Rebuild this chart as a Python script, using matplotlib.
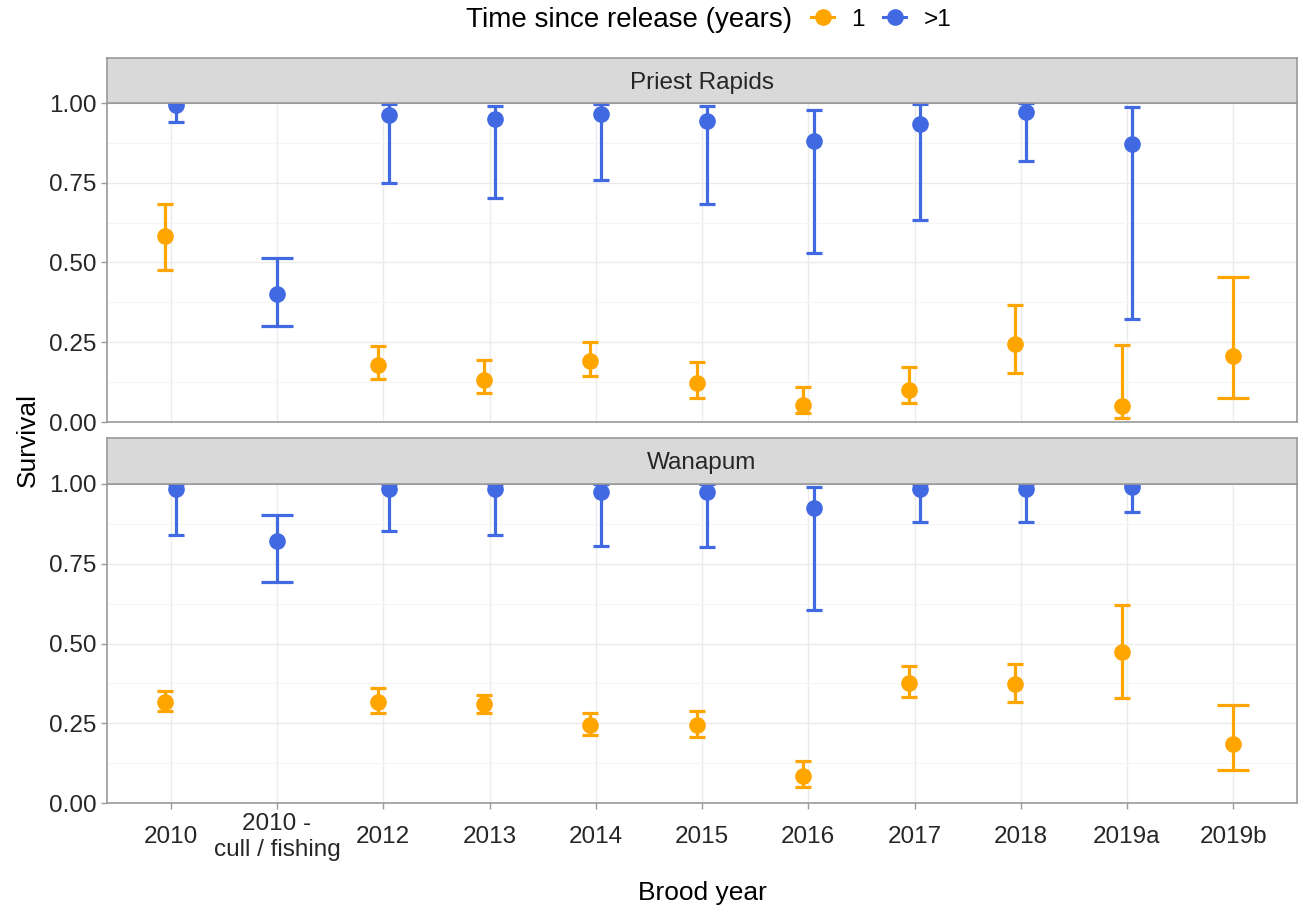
import numpy as np
import matplotlib.pyplot as plt
from matplotlib.lines import Line2D

plt.rcParams['font.family'] = ['Liberation Sans', 'DejaVu Sans']

years = ["2010", "2010 -\ncull / fishing", "2012", "2013", "2014", "2015",
         "2016", "2017", "2018", "2019a", "2019b"]
nan = np.nan

# Priest Rapids
pr_1_est = [0.584, nan, 0.179, 0.132, 0.190, 0.122, 0.054, 0.101, 0.244, 0.051, 0.208]
pr_1_lo = [0.478, nan, 0.134, 0.090, 0.143, 0.075, 0.028, 0.059, 0.154, 0.011, 0.076]
pr_1_hi = [0.684, nan, 0.238, 0.195, 0.251, 0.187, 0.111, 0.171, 0.368, 0.242, 0.455]
pr_2_est = [0.995, 0.400, 0.962, 0.949, 0.966, 0.945, 0.880, 0.934, 0.973, 0.870, nan]
pr_2_lo = [0.942, 0.301, 0.749, 0.702, 0.759, 0.684, 0.530, 0.633, 0.817, 0.322, nan]
pr_2_hi = [1.000, 0.513, 0.998, 0.992, 0.998, 0.992, 0.978, 0.998, 1.000, 0.986, nan]

# Wanapum
wa_1_est = [0.317, nan, 0.317, 0.309, 0.244, 0.244, 0.084, 0.377, 0.372, 0.473, 0.186]
wa_1_lo = [0.288, nan, 0.281, 0.283, 0.214, 0.207, 0.049, 0.332, 0.316, 0.330, 0.105]
wa_1_hi = [0.351, nan, 0.361, 0.340, 0.281, 0.288, 0.131, 0.429, 0.437, 0.622, 0.307]
wa_2_est = [0.985, 0.822, 0.985, 0.985, 0.976, 0.976, 0.925, 0.985, 0.985, 0.990, nan]
wa_2_lo = [0.841, 0.694, 0.853, 0.841, 0.806, 0.804, 0.604, 0.880, 0.880, 0.913, nan]
wa_2_hi = [1.000, 0.904, 1.000, 1.000, 1.000, 1.000, 0.990, 1.000, 1.000, 1.000, nan]

panels = [
    ("Priest Rapids", (pr_1_est, pr_1_lo, pr_1_hi), (pr_2_est, pr_2_lo, pr_2_hi)),
    ("Wanapum", (wa_1_est, wa_1_lo, wa_1_hi), (wa_2_est, wa_2_lo, wa_2_hi)),
]

c_one = "#FFA500"
c_more = "#4169E1"
grid_major = "#EBEBEB"
grid_minor = "#F5F5F5"
border = "#9A9A9A"
text_col = "#262626"

W, H = 1306, 913
fig = plt.figure(figsize=(W / 100, H / 100), dpi=100)


def fx(px):
    return px / W


def fy(py):
    return 1 - py / H


left, right = 107, 1297
layout = [(58, 103, 422), (438, 484, 803)]  # strip top, panel top, panel bottom

x = np.arange(len(years))
for i, (name, one, more) in enumerate(panels):
    s_top, p_top, p_bot = layout[i]
    ax = fig.add_axes([fx(left), fy(p_bot), fx(right - left), (p_bot - p_top) / H])
    sax = fig.add_axes([fx(left), fy(p_top), fx(right - left), (p_top - s_top) / H])

    ax.set_xlim(-0.6, len(years) - 0.4)
    ax.set_ylim(0, 1)
    ax.set_yticks([0, 0.25, 0.5, 0.75, 1.0])
    ax.set_yticks([0.125, 0.375, 0.625, 0.875], minor=True)
    ax.set_yticklabels(["0.00", "0.25", "0.50", "0.75", "1.00"])
    ax.set_xticks(x)
    ax.grid(True, which="major", color=grid_major, lw=1.0, zorder=0)
    ax.grid(True, which="minor", axis="y", color=grid_minor, lw=0.8, zorder=0)
    ax.set_axisbelow(True)
    for sp in ax.spines.values():
        sp.set_color(border)
        sp.set_linewidth(1.2)
    ax.tick_params(axis="y", which="major", length=4.5, width=1, color=border,
                   labelsize=17.5, labelcolor=text_col, pad=3)
    ax.tick_params(axis="y", which="minor", length=0)

    both = ~np.isnan(np.array(one[0])) & ~np.isnan(np.array(more[0]))
    for (est, lo, hi), col, sign in [(one, c_one, -1), (more, c_more, 1)]:
        est, lo, hi = np.array(est), np.array(lo), np.array(hi)
        xs = x + np.where(both, 0.05 * sign, 0.0)
        w = np.where(both, 0.15, 0.3)
        ok = ~np.isnan(est)
        ax.vlines(xs[ok], lo[ok], hi[ok], color=col, lw=2.3, zorder=3)
        ax.hlines(lo[ok], xs[ok] - w[ok] / 2, xs[ok] + w[ok] / 2, color=col, lw=2.3, zorder=3)
        ax.hlines(hi[ok], xs[ok] - w[ok] / 2, xs[ok] + w[ok] / 2, color=col, lw=2.3, zorder=3)
        ax.plot(xs[ok], est[ok], "o", color=col, ms=12, mec="none", zorder=4)

    if i == 0:
        ax.tick_params(axis="x", length=0, labelbottom=False)
    else:
        ax.set_xticklabels(years)
        ax.tick_params(axis="x", length=4.5, width=1, color=border,
                       labelsize=17.5, labelcolor=text_col, pad=20)
        for lbl in ax.get_xticklabels():
            lbl.set_verticalalignment("center")

    sax.set_xticks([])
    sax.set_yticks([])
    sax.set_facecolor("#D9D9D9")
    for sp in sax.spines.values():
        sp.set_color(border)
        sp.set_linewidth(1.2)
    sax.text(0.5, 0.45, name, ha="center", va="center", fontsize=17.5,
             color=text_col, transform=sax.transAxes)

fig.text(fx(28), fy(440), "Survival", rotation=90, ha="center", va="center",
         fontsize=19, color="black")
fig.text(fx(702), fy(893), "Brood year", ha="center", va="center",
         fontsize=19, color="black")

fig.text(fx(792), fy(20), "Time since release (years)", ha="right", va="center",
         fontsize=20, color="black")
handles = [Line2D([0], [0], color=c_one, marker="o", ms=11, lw=2.2),
           Line2D([0], [0], color=c_more, marker="o", ms=11, lw=2.2)]
fig.legend(handles, ["1", ">1"], loc="center left", bbox_to_anchor=(fx(811), fy(20)),
           ncol=2, frameon=False, fontsize=17.5, handlelength=0.95,
           handletextpad=0.72, columnspacing=0.75, borderaxespad=0, borderpad=0)

fig.savefig("out.png", dpi=100)
